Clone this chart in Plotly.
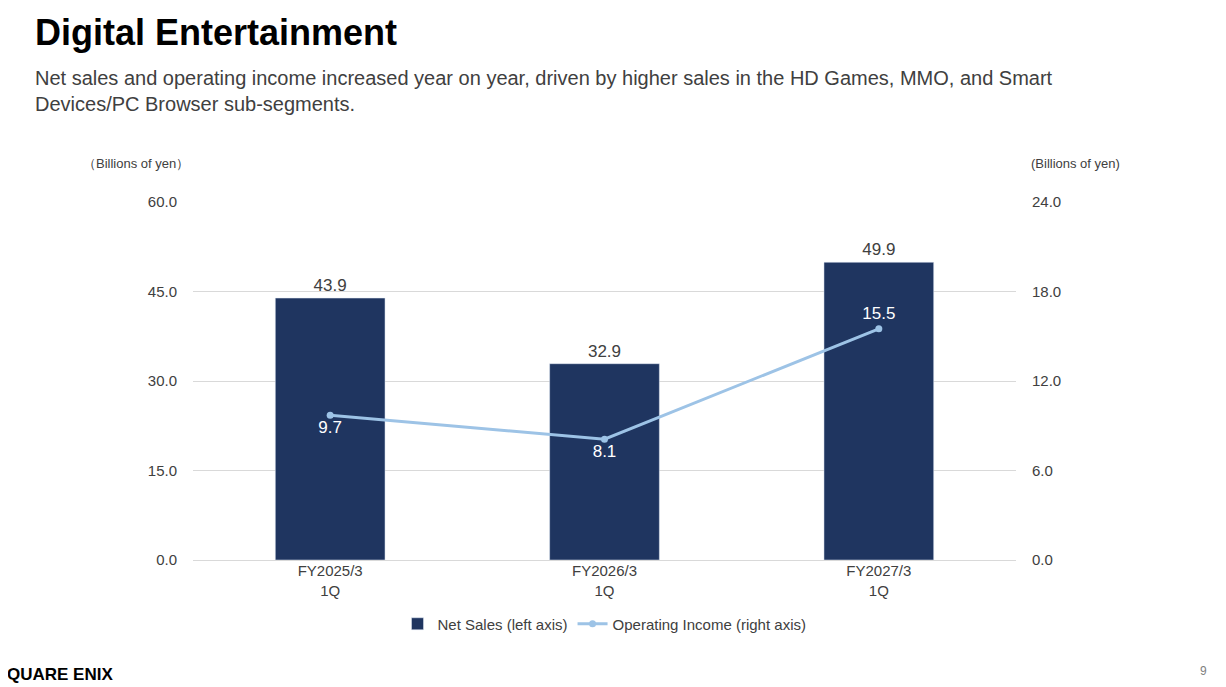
import plotly.graph_objects as go

categories = ["FY2025/3<br>1Q", "FY2026/3<br>1Q", "FY2027/3<br>1Q"]
net_sales = [43.9, 32.9, 49.9]
op_income = [9.7, 8.1, 15.5]
left_ticks = [0, 15, 30, 45, 60]
right_ticks = [0, 6, 12, 18, 24]

W, H = 1226, 687
DX, DY = -7, -8  # page offset compensation
L, R, T, B = 192 + DX, 1015 + DX, 202 + DY, 560 + DY

fig = go.Figure()
fig.add_trace(go.Bar(x=categories, y=net_sales, name="Net Sales (left axis)",
                     marker_color="#1F3560", width=0.4,
                     text=[f"{v:.1f}" for v in net_sales], textposition="outside",
                     textfont=dict(size=17, color="#404040"), cliponaxis=False))
fig.add_trace(go.Scatter(x=categories, y=op_income, name="Operating Income (right axis)",
                         yaxis="y2", mode="lines+markers+text",
                         line=dict(color="#9DC3E6", width=3), marker=dict(size=7, color="#9DC3E6"),
                         text=[f"{v:.1f}" for v in op_income],
                         textposition=["bottom center", "bottom center", "top center"],
                         textfont=dict(size=17, color="white")))

fig.update_layout(
    width=W, height=H, paper_bgcolor="white", plot_bgcolor="white",
    margin=dict(l=L, r=W - R, t=T, b=H - B),
    font=dict(family="Liberation Sans, Arial", color="#404040", size=15),
    xaxis=dict(showline=False, tickfont=dict(size=15, color="#404040")),
    yaxis=dict(range=[0, 60], tickvals=left_ticks, tickformat=".1f",
               gridcolor="#D9D9D9", zeroline=True, zerolinecolor="#D9D9D9", zerolinewidth=1,
               tickfont=dict(size=15, color="#404040"), ticklabelstandoff=15),
    yaxis2=dict(range=[0, 24], tickvals=right_ticks, tickformat=".1f", overlaying="y",
                side="right", showgrid=False, zeroline=False, tickfont=dict(size=15, color="#404040"),
                ticklabelstandoff=15),
    showlegend=True,
    legend=dict(orientation="h", x=0.5, xanchor="center",
                y=(B - (624 + DY)) / (B - T), yanchor="middle",
                font=dict(size=15, color="#404040"), traceorder="normal"),
    bargap=0.6,
)
ann = [
    dict(text="<b>Digital Entertainment</b>", x=32, y=32, font=dict(size=36, color="black")),
    dict(text="Net sales and operating income increased year on year, driven by higher sales in the HD Games, MMO, and Smart<br>Devices/PC Browser sub-segments.",
         x=32, y=91, font=dict(size=20, color="#404040")),
    dict(text="（Billions of yen）", x=80, y=164, font=dict(size=13, color="#404040")),
    dict(text="(Billions of yen)", x=1028, y=164, font=dict(size=13, color="#404040")),
    dict(text="<b>QUARE ENIX</b>", x=4, y=674, font=dict(size=17, color="black")),
    dict(text="9", x=1197, y=671, font=dict(size=12, color="#808080")),
]
for a in ann:
    px, py = a["x"] + DX, a["y"] + DY
    fig.add_annotation(text=a["text"], x=(px - L) / (R - L), y=(B - py) / (B - T),
                       xref="paper", yref="paper", xanchor="left", yanchor="middle",
                       showarrow=False, font=a["font"], align="left")
fig.write_html("out.html")
